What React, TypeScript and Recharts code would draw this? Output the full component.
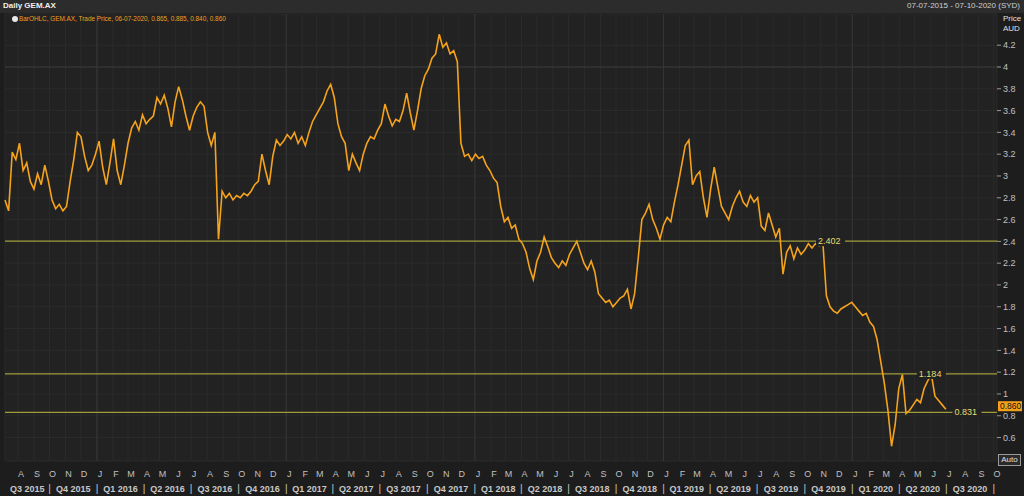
import React from "react";
import {
  ComposedChart,
  Line,
  XAxis,
  YAxis,
  CartesianGrid,
  ReferenceLine,
  ReferenceDot,
} from "recharts";

// weekly closes, first week starts 07-07-2015
const closes = [
  2.78, 2.68, 3.22, 3.15, 3.3, 3.05, 3.12, 2.95, 2.88, 3.02,
  2.92, 3.1, 2.95, 2.78, 2.7, 2.74, 2.68, 2.72, 2.95, 3.15,
  3.4, 3.36, 3.18, 3.05, 3.1, 3.2, 3.32, 3.08, 2.92, 3.12,
  3.34, 3.05, 2.92, 3.1, 3.3, 3.44, 3.5, 3.42, 3.56, 3.48,
  3.52, 3.55, 3.72, 3.66, 3.74, 3.62, 3.45, 3.68, 3.82, 3.7,
  3.55, 3.42, 3.55, 3.63, 3.68, 3.64, 3.4, 3.28, 3.4, 2.42,
  2.86, 2.8, 2.84, 2.78, 2.82, 2.8, 2.84, 2.82, 2.86, 2.92,
  2.95, 3.2, 3.05, 2.92, 3.18, 3.33, 3.28, 3.32, 3.38, 3.34,
  3.4, 3.3, 3.36, 3.28, 3.4, 3.5, 3.56, 3.62, 3.68, 3.78,
  3.84, 3.72, 3.48, 3.36, 3.3, 3.05, 3.2, 3.12, 3.05, 3.2,
  3.3, 3.36, 3.34, 3.42, 3.48, 3.66, 3.55, 3.46, 3.52, 3.5,
  3.6, 3.76, 3.58, 3.42, 3.6, 3.8, 3.92, 3.98, 4.08, 4.12,
  4.3, 4.18, 4.22, 4.12, 4.15, 4.05, 3.3, 3.18, 3.2, 3.14,
  3.2, 3.16, 3.18, 3.1, 3.05, 2.98, 2.94, 2.72, 2.58, 2.62,
  2.52, 2.55, 2.42, 2.38, 2.3, 2.15, 2.05, 2.22, 2.3, 2.44,
  2.35, 2.25, 2.2, 2.16, 2.22, 2.18, 2.28, 2.34, 2.4, 2.3,
  2.2, 2.14, 2.22, 2.12, 1.92, 1.88, 1.84, 1.86, 1.8, 1.84,
  1.88, 1.9, 1.96, 1.78, 1.92, 2.25, 2.6, 2.66, 2.74, 2.6,
  2.52, 2.42, 2.55, 2.62, 2.58, 2.76, 2.92, 3.1, 3.28, 3.33,
  2.92, 3.0, 3.04, 2.8, 2.62, 2.88, 3.08, 2.9, 2.72, 2.66,
  2.6, 2.72, 2.8, 2.86, 2.76, 2.72, 2.82, 2.76, 2.8, 2.54,
  2.5, 2.66, 2.55, 2.44, 2.52, 2.1, 2.3, 2.36, 2.24, 2.34,
  2.28, 2.32, 2.38, 2.34, 2.38, 2.36, 2.4, 1.9, 1.8, 1.76,
  1.74, 1.78, 1.8, 1.82, 1.84, 1.8, 1.76, 1.72, 1.74, 1.66,
  1.62, 1.5, 1.3, 1.1, 0.85, 0.52, 0.72, 1.05, 1.18, 0.82,
  0.85, 0.9, 0.95, 0.92, 1.05, 1.12, 1.18, 0.98, 0.94, 0.9,
  0.86,
];

const levels = [2.402, 1.184, 0.831];
const levelLabels = ["2.402", "1.184", "0.831"];
const levelLabelDates = [
  [2019, 9, 23],
  [2020, 4, 5],
  [2020, 6, 13],
];

const yTicks = [0.6, 0.8, 1, 1.2, 1.4, 1.6, 1.8, 2, 2.2, 2.4, 2.6, 2.8, 3, 3.2, 3.4, 3.6, 3.8, 4, 4.2];
const monthLetters = ["J", "F", "M", "A", "M", "J", "J", "A", "S", "O", "N", "D"];
const quarterLabels = [
  "Q3 2015", "Q4 2015", "Q1 2016", "Q2 2016", "Q3 2016", "Q4 2016", "Q1 2017",
  "Q2 2017", "Q3 2017", "Q4 2017", "Q1 2018", "Q2 2018", "Q3 2018", "Q4 2018",
  "Q1 2019", "Q2 2019", "Q3 2019", "Q4 2019", "Q1 2020", "Q2 2020", "Q3 2020",
];

const START = Date.UTC(2015, 6, 7);
const END = Date.UTC(2020, 9, 7);
const dayOf = (y: number, m: number, d: number) =>
  Math.round((Date.UTC(y, m, d) - START) / 86400000);
const LAST_DAY = dayOf(2020, 9, 7);

const data = closes.map((c, i) => ({ t: i * 7, close: c }));

// month ticks (Aug 2015 .. Oct 2020)
const monthTicks: number[] = [];
const monthName = new Map<number, string>();
for (let k = 0; ; k++) {
  const y = 2015 + Math.floor((7 + k) / 12);
  const m = (7 + k) % 12;
  if (Date.UTC(y, m, 1) > END) break;
  const t = dayOf(y, m, 1);
  monthTicks.push(t);
  monthName.set(t, monthLetters[m]);
}

// quarter labels and separators
const quarterTicks: number[] = [];
const quarterName = new Map<number, string>();
quarterLabels.forEach((q, i) => {
  const y = 2015 + Math.floor((2 + i) / 4);
  const m = ((2 + i) % 4) * 3;
  const a = Math.max(0, dayOf(y, m, 1));
  const b = Math.min(LAST_DAY, dayOf(y, m + 3, 1));
  const mid = (a + b) / 2;
  quarterTicks.push(mid);
  quarterName.set(mid, q);
  if (Date.UTC(y, m + 3, 1) <= END) quarterTicks.push(dayOf(y, m + 3, 1));
});

const yearLines = [dayOf(2016, 0, 1), dayOf(2017, 0, 1), dayOf(2018, 0, 1), dayOf(2019, 0, 1), dayOf(2020, 0, 1)];

const QuarterTick = (props: any) => {
  const { x, y, payload } = props;
  const name = quarterName.get(payload.value);
  if (name) {
    return (
      <text x={x} y={y + 8} textAnchor="middle" fill="#c8c8c8" fontSize={9} fontWeight="bold" fontFamily="Liberation Sans">
        {name}
      </text>
    );
  }
  return (
    <text x={x} y={y + 8} textAnchor="middle" fill="#c8c8c8" fontSize={10} fontFamily="Liberation Sans">
      |
    </text>
  );
};

const MonthTick = (props: any) => {
  const { x, y, payload } = props;
  return (
    <text x={x + 3} y={y + 8} textAnchor="middle" fill="#c0c0c0" fontSize={9} fontFamily="Liberation Sans">
      {monthName.get(payload.value)}
    </text>
  );
};

const LevelLabel = (text: string) => (props: any) => {
  const { cx, cy } = props;
  return (
    <g>
      <rect x={cx} y={cy - 5} width={text.length * 5 + 4} height={10} fill="#222222" />
      <text x={cx + 2} y={cy + 3} fill="#e4de70" fontSize={9} fontFamily="Liberation Sans">
        {text}
      </text>
    </g>
  );
};

const LastPrice = (props: any) => {
  const vb = props.viewBox;
  const x = vb.x + vb.width + 1;
  return (
    <g>
      <rect x={x} y={vb.y - 8} width={24} height={10} fill="#f5a01a" />
      <text x={x + 2} y={vb.y} fill="#111" fontSize={8.5} fontFamily="Liberation Sans">
        {closes[closes.length - 1].toFixed(3)}
      </text>
    </g>
  );
};

export default function App() {
  return (
    <div
      style={{
        position: "absolute",
        left: 0,
        top: 0,
        width: 1024,
        height: 496,
        background: "#1d1d1d",
        fontFamily: "Liberation Sans",
        overflow: "hidden",
      }}
    >
      <div style={{ position: "absolute", left: 0, top: 0, width: 1024, height: 13, background: "#2c2c2c" }} />
      <ComposedChart width={1024} height={496} data={data} margin={{ top: 14, right: 0, left: 5, bottom: 0 }}>
        <CartesianGrid xAxisId="m" stroke="#2b2b2b" fill="#222222" />
        <XAxis
          xAxisId="m"
          type="number"
          dataKey="t"
          domain={[0, LAST_DAY]}
          ticks={monthTicks}
          interval={0}
          height={15}
          axisLine={false}
          tickLine={false}
          tick={<MonthTick />}
        />
        <XAxis
          xAxisId="q"
          type="number"
          dataKey="t"
          domain={[0, LAST_DAY]}
          ticks={quarterTicks}
          interval={0}
          height={20}
          axisLine={false}
          tickLine={false}
          tick={<QuarterTick />}
        />
        <YAxis
          orientation="right"
          width={27}
          domain={[0.385, 4.486]}
          ticks={yTicks}
          interval={0}
          allowDataOverflow
          axisLine={false}
          tickSize={4}
          tickLine={{ stroke: "#999" }}
          tick={{ fill: "#c0c0c0", fontSize: 9, fontFamily: "Liberation Sans" }}
          tickFormatter={(v: number) => String(v)}
        />
        {yearLines.map((t) => (
          <ReferenceLine key={t} xAxisId="m" x={t} stroke="#363636" />
        ))}
        <ReferenceLine xAxisId="m" y={4} stroke="#3a3a3a" />
        {levels.map((v) => (
          <ReferenceLine key={v} xAxisId="m" y={v} stroke="#a19c3a" strokeWidth={1.2} />
        ))}
        <Line
          xAxisId="m"
          type="linear"
          dataKey="close"
          stroke="#f5a31c"
          strokeWidth={1.6}
          dot={false}
          isAnimationActive={false}
        />
        {levels.map((v, i) => (
          <ReferenceDot
            key={"l" + v}
            xAxisId="m"
            x={dayOf(levelLabelDates[i][0], levelLabelDates[i][1], levelLabelDates[i][2])}
            y={v}
            r={0}
            shape={LevelLabel(levelLabels[i])}
          />
        ))}
        <ReferenceLine
          xAxisId="m"
          y={closes[closes.length - 1]}
          stroke="none"
          ifOverflow="visible"
          label={<LastPrice />}
        />
      </ComposedChart>
      <div style={{ position: "absolute", left: 3, top: 1, fontSize: 8, fontWeight: "bold", color: "#f0f0f0" }}>Daily GEM.AX</div>
      <div style={{ position: "absolute", right: 4, top: 1, fontSize: 8, color: "#cfcfcf" }}>
        07-07-2015 - 07-10-2020 (SYD)
      </div>
      <div
        style={{
          position: "absolute",
          left: 12,
          top: 16,
          width: 6,
          height: 6,
          borderRadius: 3,
          background: "#e8e8e8",
        }}
      />
      <div style={{ position: "absolute", left: 19, top: 15, fontSize: 6.4, color: "#f0a020" }}>
        BarOHLC, GEM.AX, Trade Price, 06-07-2020, 0.865, 0.885, 0.840, 0.860
      </div>
      <div style={{ position: "absolute", left: 1003, top: 14, fontSize: 8, color: "#e0e0e0", lineHeight: "10px" }}>
        Price
        <br />
        AUD
      </div>
      <div
        style={{
          position: "absolute",
          left: 998,
          top: 454,
          width: 21,
          height: 10,
          border: "1px solid #9a9a9a",
          background: "#2a2a2a",
          fontSize: 8,
          lineHeight: "10px",
          color: "#e0e0e0",
          textAlign: "center",
        }}
      >
        Auto
      </div>
    </div>
  );
}
